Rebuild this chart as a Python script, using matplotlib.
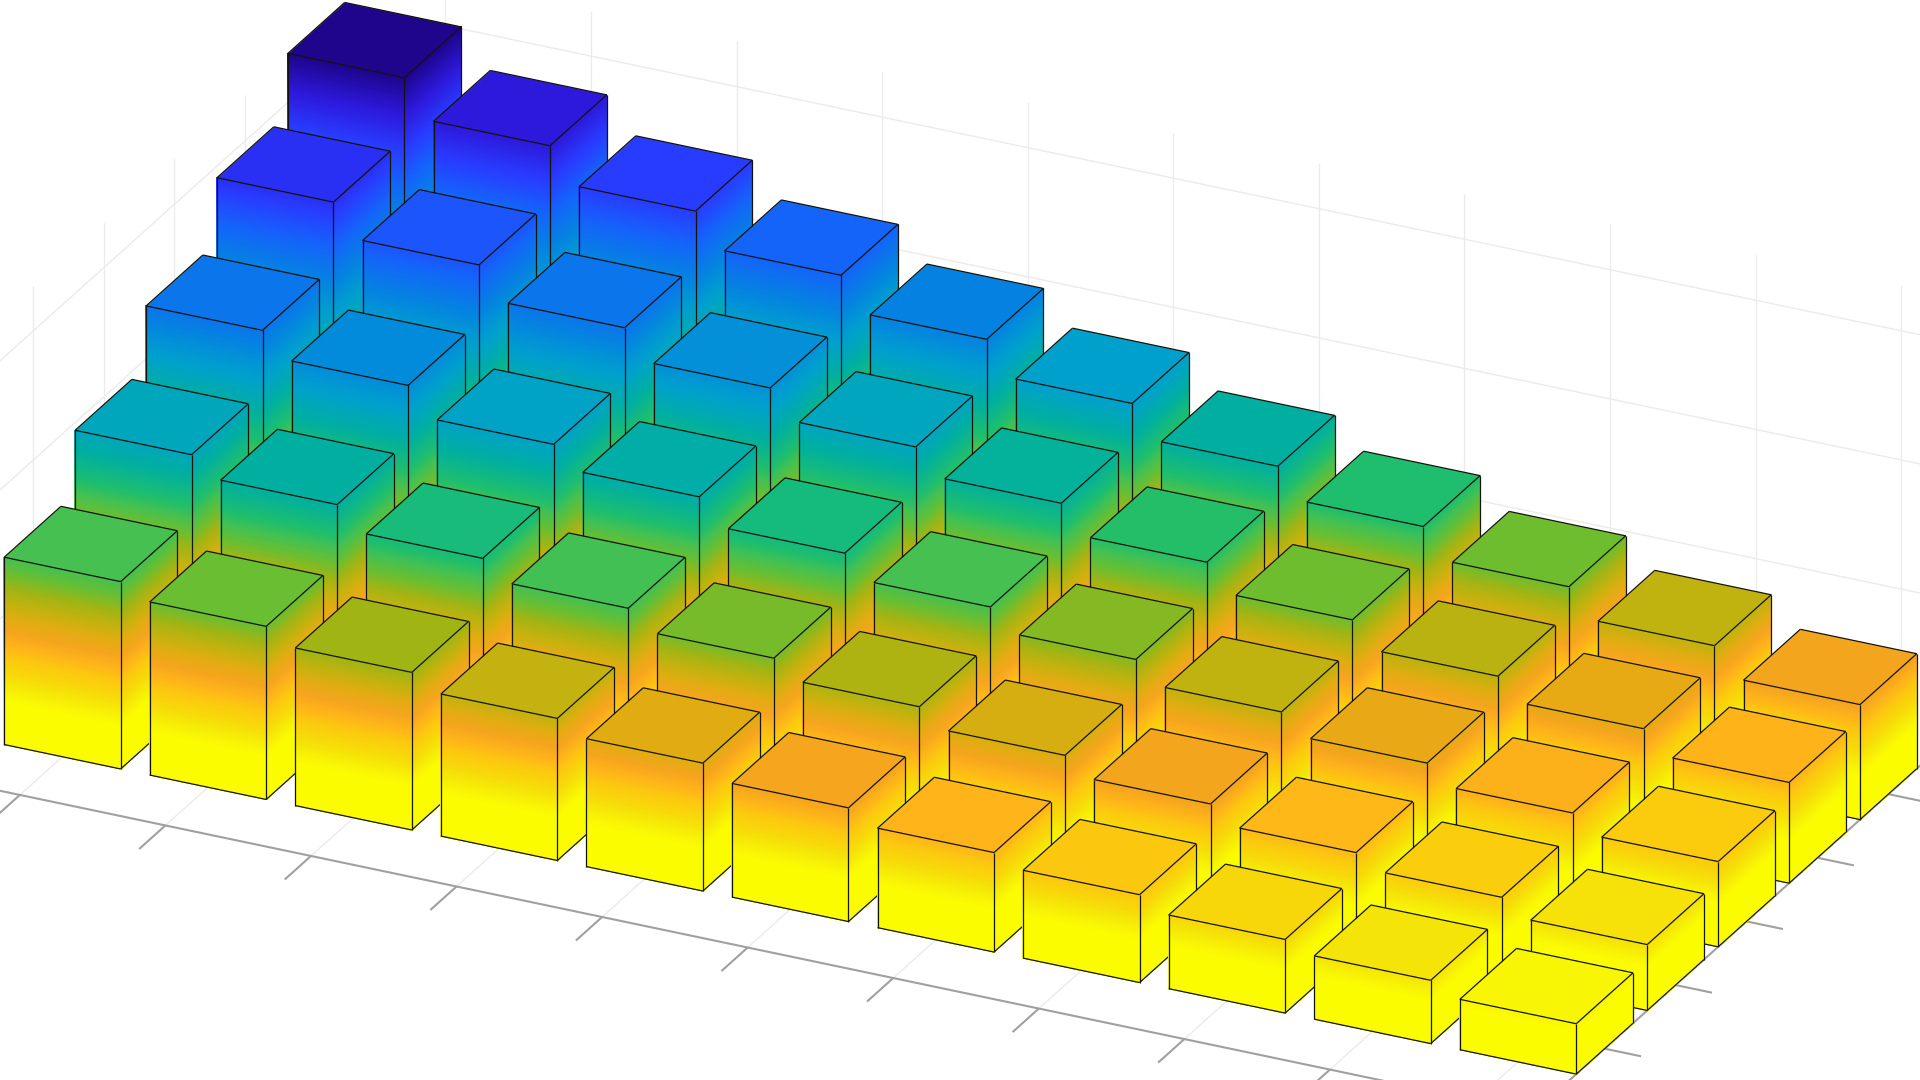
import numpy as np
import matplotlib
matplotlib.use("Agg")
import matplotlib.pyplot as plt
from matplotlib.colors import LinearSegmentedColormap
from mpl_toolkits.mplot3d import proj3d
from mpl_toolkits.mplot3d.art3d import Poly3DCollection, Line3DCollection

# Bar heights: one list per row, front row first
row_0 = [14.5, 13.4, 12.2, 11.0, 9.9, 8.8, 7.7, 6.8, 5.7, 4.9, 3.9]
row_1 = [19.4, 17.9, 16.1, 14.6, 13.1, 11.7, 10.3, 8.9, 7.5, 6.4, 5.1]
row_2 = [24.1, 22.2, 20.0, 18.3, 16.3, 14.5, 12.8, 11.1, 9.5, 8.0, 6.6]
row_3 = [29.1, 26.6, 24.1, 21.8, 19.6, 17.6, 15.4, 13.3, 11.3, 9.6, 7.8]
row_4 = [33.8, 30.9, 28.2, 25.6, 23.0, 20.4, 17.9, 15.6, 13.3, 11.1, 8.9]
rows = [row_0, row_1, row_2, row_3, row_4]

x_ticks = list(range(11))
y_ticks = list(range(5))
z_ticks = [10, 20, 30]
x_lim = (-0.4, 10.4)
y_lim = (-1.0, 5.0)
z_lim = (0.0, 33.5)
bar_width = 0.8

# Colour map stops: (height, colour)
cmap_heights = [0, 3.3, 3.9, 4.9, 5.7, 6.8, 7.7, 8.8, 9.9, 11.0, 12.2, 13.4, 14.5,
                15.6, 17.9, 20.4, 23.0, 25.6, 28.2, 30.9, 33.8]
cmap_colors = [(252, 252, 0), (252, 252, 0), (248, 245, 5), (245, 228, 8), (248, 215, 10),
               (252, 200, 15), (255, 180, 25), (245, 165, 30), (225, 172, 18), (195, 178, 15),
               (160, 180, 20), (105, 190, 50), (70, 192, 80), (30, 190, 110), (0, 175, 160),
               (0, 160, 205), (5, 130, 225), (20, 100, 250), (40, 60, 255), (45, 25, 220),
               (30, 5, 140)]
c_top = cmap_heights[-1]
cmap = LinearSegmentedColormap.from_list(
    "bars",
    [(h / c_top, tuple(c / 255 for c in col)) for h, col in zip(cmap_heights, cmap_colors)],
    N=1024,
)


def colour(z):
    return cmap(np.clip(z / c_top, 0, 1))


W, H, S = 1920, 1080, 4000
fig = plt.figure(figsize=(W / 100, H / 100), dpi=100, facecolor="white")
rect = [(W - S) / 2 / W, (H - S) / 2 / H, S / W, S / H]
ax = fig.add_axes(rect, projection="3d", proj_type="ortho", computed_zorder=False)
ax.set_axis_off()
ax.view_init(elev=25.7, azim=-64.2)
ax.set_xlim(*x_lim, view_margin=0)
ax.set_ylim(*y_lim, view_margin=0)
ax.set_zlim(*z_lim, view_margin=0)
box = (10.8 * 161.6, 6.0 * 162.9, 33.5 * 14.33)


def to_px(p):
    a, b, _ = proj3d.proj_transform(p[0], p[1], p[2], ax.get_proj())
    return ax.transData.transform((a, b))


# Fit the view so that the axes land where they do in the reference
zoom = 1.0
ax.set_box_aspect(box, zoom=zoom)
ax.apply_aspect()
d = np.linalg.norm(to_px((10, 0, 0)) - to_px((0, 0, 0)))
zoom *= np.hypot(1455.5, 305.8) / d
ax.set_box_aspect(box, zoom=zoom)
ax.apply_aspect()
p0 = to_px((0, 0, 0))
target = np.array([90.8, H - 731.3])
rect[0] += (target[0] - p0[0]) / W
rect[1] += (target[1] - p0[1]) / H
ax.set_position(rect)
ax.apply_aspect()

GRID = "#ebebeb"
AXIS = "#a0a0a0"
zmax = z_lim[1]
xl, xr = x_lim
yf, yb = y_lim


def line(xs, ys, zs, color=GRID, lw=1.0, z=1):
    ax.plot(xs, ys, zs, color=color, lw=lw, zorder=z, solid_capstyle="butt")


# Back wall, left wall and floor grid
for c in x_ticks:
    line([c, c], [yb, yb], [0, zmax])
    line([c, c], [yf, yb], [0, 0])
for r in y_ticks:
    line([xl, xl], [r, r], [0, zmax])
    line([xl, xr], [r, r], [0, 0])
for t in z_ticks:
    line([xl, xr], [yb, yb], [t, t])
    line([xl, xl], [yf, yb], [t, t])

# Axis lines and tick marks
line([xl, xr], [yf, yf], [0, 0], color=AXIS, lw=1.5, z=2)
line([xr, xr], [yf, yb], [0, 0], color=AXIS, lw=1.5, z=2)
for c in x_ticks:
    line([c, c], [yf, yf - 0.37], [0, 0], color=AXIS, lw=1.5, z=2)
for r in y_ticks:
    line([xr, xr + 0.25], [r, r], [0, 0], color=AXIS, lw=1.5, z=2)

# Bars: back to front, painted in order
order = 10
half = bar_width / 2
step = 0.1
for r in reversed(range(len(rows))):
    for c, h in enumerate(rows[r]):
        x0, x1 = c - half, c + half
        y0, y1 = r - half, r + half
        levels = np.linspace(0, h, max(int(h / step), 2) + 1)
        right, front, cols = [], [], []
        for a, b in zip(levels[:-1], levels[1:]):
            right.append([(x1, y0, a), (x1, y1, a), (x1, y1, b), (x1, y0, b)])
            front.append([(x0, y0, a), (x1, y0, a), (x1, y0, b), (x0, y0, b)])
            cols.append(colour((a + b) / 2))
        for polys in (right, front):
            pc = Poly3DCollection(polys, facecolors=cols, edgecolors=cols, linewidths=0.3,
                                  antialiaseds=False, zorder=order)
            ax.add_collection3d(pc, autolim=False)
            order += 1
        topc = colour(h)
        top = [[(x0, y0, h), (x1, y0, h), (x1, y1, h), (x0, y1, h)]]
        pc = Poly3DCollection(top, facecolors=[topc], edgecolors=[topc], linewidths=0.5, zorder=order)
        ax.add_collection3d(pc, autolim=False)
        order += 1
        a, b, e, f = (x0, y0, 0), (x1, y0, 0), (x1, y1, 0), (x0, y0, h)
        g, k, m = (x1, y0, h), (x1, y1, h), (x0, y1, h)
        segs = [(a, b), (b, e), (a, f), (b, g), (e, k), (f, g), (g, k), (k, m), (m, f)]
        lc = Line3DCollection(segs, colors="#14140a", linewidths=0.9, zorder=order)
        ax.add_collection3d(lc, autolim=False)
        order += 1

fig.savefig("out.png", dpi=100, facecolor="white")
